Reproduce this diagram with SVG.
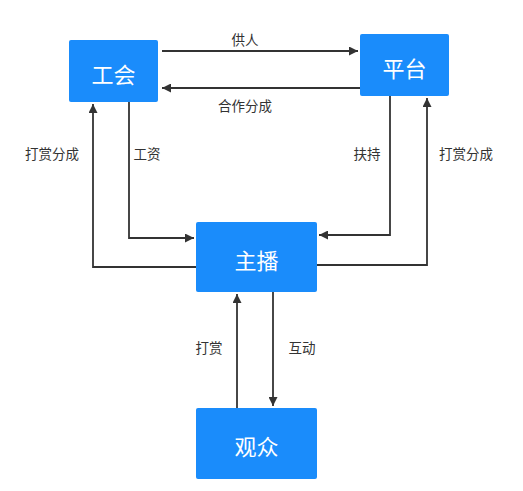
<svg xmlns="http://www.w3.org/2000/svg" width="523" height="491" viewBox="0 0 523 491">
<style>
.box{fill:#1a8cfb;}
.nt{fill:#ffffff;font-family:"Noto Sans CJK SC","Noto Sans",sans-serif;font-size:22px;text-anchor:middle;dominant-baseline:central;}
.lbl{fill:#333333;font-family:"Noto Sans CJK SC","Noto Sans",sans-serif;font-size:13.5px;text-anchor:middle;dominant-baseline:central;}
.ln{fill:none;stroke:#333333;stroke-width:1.8;marker-end:url(#ah);}
</style>
<defs>
<marker id="ah" viewBox="0 0 10 10" refX="10" refY="5" markerWidth="12" markerHeight="9" markerUnits="userSpaceOnUse" orient="auto">
<path d="M0,0 L10,5 L0,10 Z" fill="#333333"/>
</marker>
</defs>
<rect width="523" height="491" fill="#ffffff"/>
<g id="connectors">
<path class="ln" d="M162,51 L358,51"/>
<path class="ln" d="M360,88 L162,88"/>
<path class="ln" d="M129,102 L129,238 L194,238"/>
<path class="ln" d="M196,267 L93,267 L93,104"/>
<path class="ln" d="M390,96 L390,235 L319,235"/>
<path class="ln" d="M317,265 L427,265 L427,98"/>
<path class="ln" d="M237,408 L237,294"/>
<path class="ln" d="M273,292 L273,406"/>
</g>
<g id="labels">
<text class="lbl" x="245" y="39">供人</text>
<text class="lbl" x="245" y="105">合作分成</text>
<text class="lbl" x="52" y="153">打赏分成</text>
<text class="lbl" x="147" y="153">工资</text>
<text class="lbl" x="367" y="153">扶持</text>
<text class="lbl" x="466" y="153">打赏分成</text>
<text class="lbl" x="209" y="347">打赏</text>
<text class="lbl" x="302" y="347">互动</text>
</g>
<g id="gonghui">
<rect class="box" x="69" y="40" width="89" height="62" rx="2"/>
<text class="nt" x="113.5" y="73">工会</text>
</g>
<g id="pingtai">
<rect class="box" x="360" y="34" width="89" height="62" rx="2"/>
<text class="nt" x="404.5" y="67">平台</text>
</g>
<g id="zhubo">
<rect class="box" x="196" y="222" width="121" height="70" rx="2"/>
<text class="nt" x="256.5" y="259">主播</text>
</g>
<g id="guanzhong">
<rect class="box" x="196" y="408" width="121" height="71" rx="2"/>
<text class="nt" x="256.5" y="445">观众</text>
</g>
</svg>
